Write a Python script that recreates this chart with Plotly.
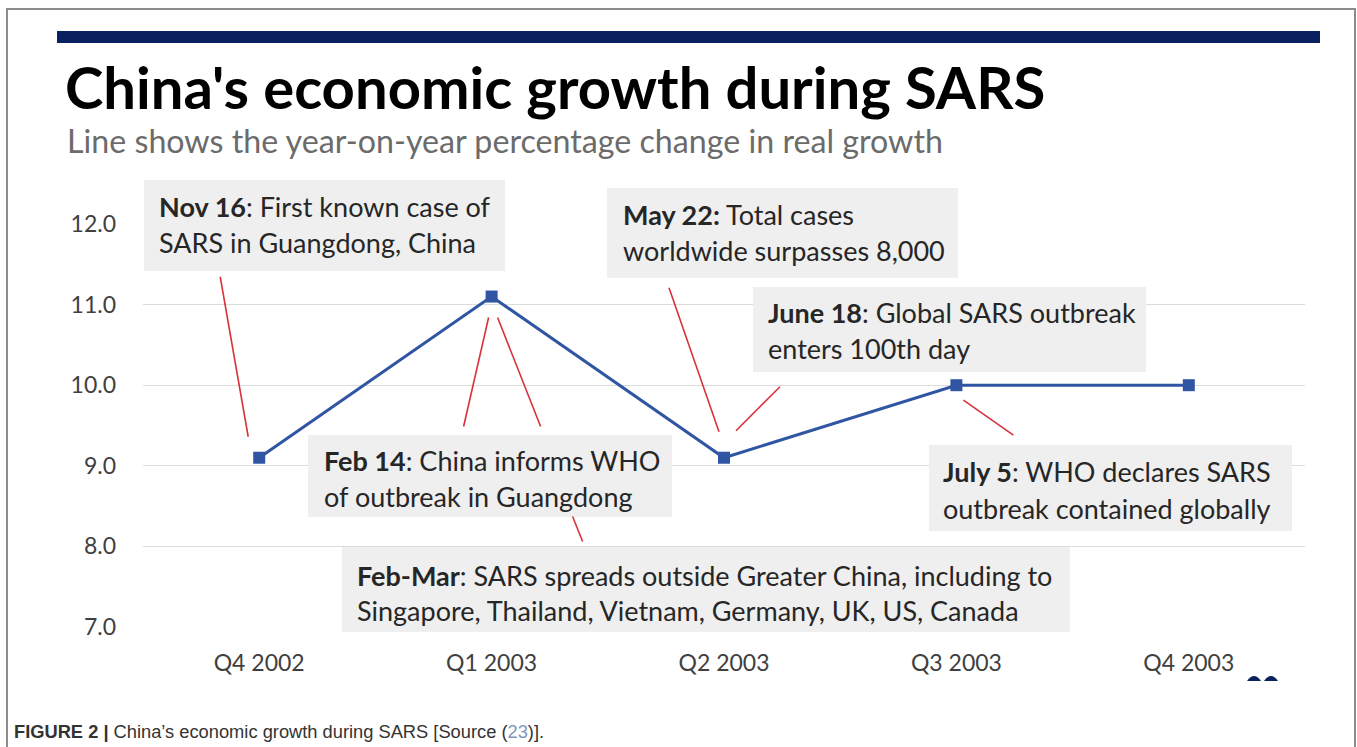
import plotly.graph_objects as go

# ---- data -------------------------------------------------------------
quarters = ["Q4 2002", "Q1 2003", "Q2 2003", "Q3 2003", "Q4 2003"]
growth = [9.1, 11.1, 9.1, 10.0, 10.0]          # y-o-y real growth, %
y_ticks = [7, 8, 9, 10, 11, 12]

event_heads = ["Nov 16", "May 22:", "June 18", "Feb 14", "July 5", "Feb-Mar"]
event_lines = [
    [": First known case of", "SARS in Guangdong, China"],
    [" Total cases", "worldwide surpasses 8,000"],
    [": Global SARS outbreak", "enters 100th day"],
    [": China informs WHO", "of outbreak in Guangdong"],
    [": WHO declares SARS", "outbreak contained globally"],
    [": SARS spreads outside Greater China, including to",
     "Singapore, Thailand, Vietnam, Germany, UK, US, Canada"],
]

title = "China's economic growth during SARS"
subtitle = "Line shows the year-on-year percentage change in real growth"
caption = ("<b>FIGURE 2 |</b> China\u2019s economic growth during SARS "
           "[Source (<span style='color:#8096b8'>23</span>)].")

# ---- layout helpers ---------------------------------------------------
W, H = 1357, 747
PL, PR, PT, PB = 143, 1305, 224, 627      # plot area in pixels


def fx(x):
    return (x - PL) / (PR - PL)


def fy(y):
    return (PB - y) / (PB - PT)


FONT = "Lato"
TXT = "#262626"

# callout boxes: (left, top, right, bottom), text left, line centres
box_geom = [
    ((144, 180, 505, 271), 157, (206, 242)),
    ((607, 188, 958, 278), 621, (214, 250)),
    ((753, 287, 1146, 372), 766, (312, 348)),
    ((308, 435, 672, 517), 322, (460, 496)),
    ((929, 445, 1292, 531), 941, (471, 508)),
    ((342, 547, 1070, 632), 355, (575, 610)),
]

# leader lines: (point index, (dx0, dy0), (dx1, dy1)) pixel offsets, y up
leaders = [
    (0, (-39, 181), (-11, 21)),
    (1, (-3, -21), (-28, -130)),
    (1, (6, -21), (49, -130)),
    (1, (81, -220), (91, -245)),
    (2, (-55, 170), (-5, 26)),
    (2, (56, 71), (12, 27)),
    (3, (7, -15), (57, -50)),
]

fig = go.Figure()
fig.add_trace(go.Scatter(
    x=quarters, y=growth, mode="lines+markers",
    line=dict(color="#2f55a3", width=3),
    marker=dict(symbol="square", size=12, color="#2f55a3"),
    hoverinfo="skip", showlegend=False,
))

shapes = []
annotations = []

# outer frame and navy header rule
shapes.append(dict(type="rect", xref="paper", yref="paper",
                   x0=fx(7), x1=fx(1355), y0=fy(9), y1=fy(760),
                   line=dict(color="#8c8c8c", width=2), layer="below"))
shapes.append(dict(type="rect", xref="paper", yref="paper",
                   x0=fx(57), x1=fx(1320), y0=fy(31), y1=fy(43),
                   fillcolor="#0a215f", line=dict(width=0)))

# callouts
for head, lines, (box, tx, centres) in zip(event_heads, event_lines, box_geom):
    x0, y0, x1, y1 = box
    shapes.append(dict(type="rect", xref="paper", yref="paper",
                       x0=fx(x0), x1=fx(x1), y0=fy(y0), y1=fy(y1),
                       fillcolor="#efefef", line=dict(width=0), layer="above"))
    for i, (ln, yc) in enumerate(zip(lines, centres)):
        text = f"<b>{head}</b>{ln}" if i == 0 else ln
        annotations.append(dict(
            xref="paper", yref="paper", x=fx(tx), y=fy(yc),
            xanchor="left", yanchor="middle", showarrow=False,
            text=text, font=dict(family=FONT, size=27, color=TXT)))

for idx, (dx0, dy0), (dx1, dy1) in leaders:
    shapes.append(dict(type="line", xref="x", yref="y",
                       xsizemode="pixel", ysizemode="pixel",
                       xanchor=quarters[idx], yanchor=growth[idx],
                       x0=dx0, y0=dy0, x1=dx1, y1=dy1,
                       line=dict(color="#d8333b", width=1.6)))

# small clipped logo remnant at the lower right
blob = (f"M {fx(1247)},{fy(681)} Q {fx(1254)},{fy(671)} {fx(1261)},{fy(681)} Z "
        f"M {fx(1264)},{fy(681)} Q {fx(1271)},{fy(671)} {fx(1278)},{fy(681)} Z")
shapes.append(dict(type="path", xref="paper", yref="paper", path=blob,
                   fillcolor="#0a215f", line=dict(width=0)))

# title block
annotations.append(dict(xref="paper", yref="paper", x=fx(63), y=fy(86),
                        xanchor="left", yanchor="middle", showarrow=False,
                        text=f"<b>{title}</b>",
                        font=dict(family=FONT, size=58, color="#000000")))
annotations.append(dict(xref="paper", yref="paper", x=fx(65), y=fy(140),
                        xanchor="left", yanchor="middle", showarrow=False,
                        text=subtitle,
                        font=dict(family=FONT, size=32.2, color="#6b6b6b")))
annotations.append(dict(xref="paper", yref="paper", x=fx(12), y=fy(731),
                        xanchor="left", yanchor="middle", showarrow=False,
                        text=caption,
                        font=dict(family="Liberation Sans", size=18.3,
                                  color="#333333")))

fig.update_layout(
    width=W, height=H,
    margin=dict(l=PL, r=W - PR, t=PT, b=H - PB, pad=0),
    paper_bgcolor="white", plot_bgcolor="white",
    shapes=shapes, annotations=annotations,
    font=dict(family=FONT, color="#404040"),
    xaxis=dict(type="category", range=[-0.5, 4.5], showgrid=False,
               showline=False, zeroline=False, ticks="",
               tickfont=dict(family=FONT, size=23, color="#404040"),
               ticklabelstandoff=20),
    yaxis=dict(range=[7, 12], tickvals=y_ticks, tickformat=".1f",
               showgrid=True, gridcolor="#dcdcdc", gridwidth=1,
               zeroline=False, showline=False, ticks="",
               tickfont=dict(family=FONT, size=23, color="#404040"),
               ticklabelstandoff=26),
)

fig.write_html("out.html")
